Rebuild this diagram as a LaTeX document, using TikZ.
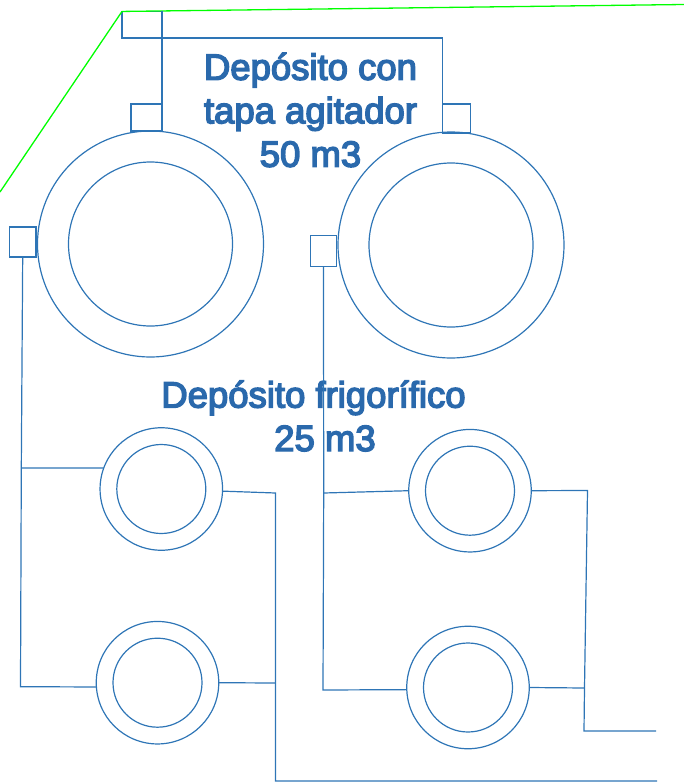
\documentclass[tikz,border=0pt]{standalone}
\usepackage{fontspec}
\setmainfont{Liberation Sans}
\newfontfamily\labelfont[FakeBold=4]{Liberation Sans}
\definecolor{pipe}{HTML}{2E75B6}
\definecolor{label}{HTML}{2A69AC}
\begin{document}
\begin{tikzpicture}[x=1pt, y=-1pt, line width=1.2pt, pipe,
tank/.style = {circle, draw=pipe, inner sep=0pt, outer sep=0pt, minimum size=#1},
port/.style = {rectangle, draw=pipe, inner sep=0pt, outer sep=0pt},
caption/.style = {align=center, text=label, font=\labelfont\fontsize{36.5}{43.5}\selectfont}]
\useasboundingbox (0,0) rectangle (684,784);

\node[caption] at (310.5,110) (lidtext) {Depósito con\\tapa agitador\\50 m3};
\node[caption] at (313.5,416) (coldtext) {Depósito frigorífico\\\hspace*{23pt}25 m3};

% big tanks
\node[tank=226pt] at (150.5,244) (bigA) {};
\node[tank=164pt] at (150.5,244) (bigAin) {};
\node[tank=226pt] at (451,245) (bigB) {};
\node[tank=164pt] at (451,245) (bigBin) {};

% small tanks
\node[tank=122.5pt] at (161.3,489) (smallA) {};
\node[tank=89pt] at (161.3,489) (smallAin) {};
\node[tank=122.5pt] at (157.5,682.7) (smallB) {};
\node[tank=89pt] at (157.5,682.7) (smallBin) {};
\node[tank=122.5pt] at (470,490.7) (smallC) {};
\node[tank=89pt] at (470,490.7) (smallCin) {};
\node[tank=122.5pt] at (468,687.5) (smallD) {};
\node[tank=89pt] at (468,687.5) (smallDin) {};

% ports
\node[port, minimum width=40pt, minimum height=26.5pt] at (142,24.7) (lid) {};
\node[port, minimum width=31pt, minimum height=27pt] at (146.5,117.5) (portA) {};
\node[port, minimum width=28pt, minimum height=29pt] at (456.5,118.5) (portB) {};
\node[port, minimum width=26.5pt, minimum height=30pt] at (22.7,242) (sideA) {};
\node[port, minimum width=26.7pt, minimum height=31pt] at (323.5,251) (sideB) {};

\coordinate (edgeL) at (0,192);
\coordinate (edgeR) at (684,4.5);
\coordinate (bendA) at (21.3,468);
\coordinate (cornerA) at (20.5,686.7);
\coordinate (bendB) at (275.5,493);
\coordinate (teeB) at (275.5,683);
\coordinate (cornerB) at (275.5,781);
\coordinate (endB) at (657,781);
\coordinate (bendC) at (323.7,493);
\coordinate (cornerC) at (323,690);
\coordinate (bendD) at (587.5,490.5);
\coordinate (teeD) at (584.5,688);
\coordinate (cornerD) at (584,731);
\coordinate (endD) at (656,731);

\draw[green, line width=1.3pt] (edgeL) -- (lid.north west) -- (edgeR);

\draw (lid.north east) -- (portA.south east);
\draw (lid.south east) -| (portB.south west);

\draw (sideA.south) -- (bendA) -- (cornerA) -- (smallB.184);
\draw (bendA) -- (smallA.160);
\draw (smallA.-2) -- (bendB) -- (teeB) -- (cornerB) -- (endB);
\draw (smallB.east) -- (teeB);

\draw (sideB.south) -- (bendC) -- (cornerC) -- (smallD.182);
\draw (bendC) -- (smallC.west);
\draw (smallC.east) -- (bendD) -- (teeD) -- (cornerD) -- (endD);
\draw (smallD.east) -- (teeD);
\end{tikzpicture}
\end{document}
